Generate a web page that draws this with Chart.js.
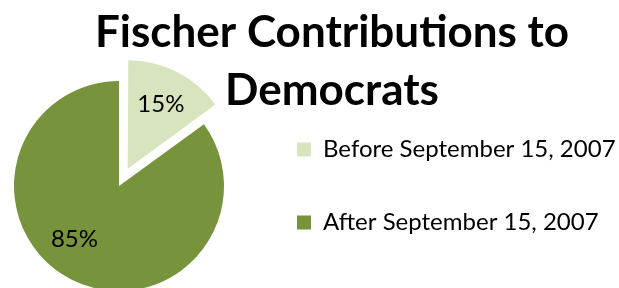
<!DOCTYPE html>
<html><head><meta charset="utf-8">
<script src="https://cdn.jsdelivr.net/npm/chart.js@4/dist/chart.umd.min.js"></script>
<style>
html,body{margin:0;padding:0;background:#fff;overflow:hidden;}
#wrap{width:619px;height:288px;position:relative;overflow:hidden;}
#c{position:absolute;left:-10px;top:0;}
</style>
</head><body><div id="wrap"><canvas id="c" width="629" height="288"></canvas></div>
<script>
const categories = ['Before September 15, 2007', 'After September 15, 2007'];
const shares = [15, 85];
const titleLines = ['Fischer Contributions to', 'Democrats'];
const sliceColors = ['#D7E4BD', '#77933C'];

const FONT = 'Lato, "Open Sans", sans-serif';
const deg = Math.PI / 180;
const labelPlacement = [{frac: 0.66, shift: 0}, {frac: 0.66, shift: 13}];

const overlay = {
  id: 'overlay',
  afterDatasetsDraw(chart) {
    const ctx = chart.ctx;
    const meta = chart.getDatasetMeta(0);
    const total = shares.reduce((a, b) => a + b, 0);
    ctx.save();
    ctx.font = '24px ' + FONT;
    ctx.fillStyle = '#000';
    ctx.textAlign = 'center';
    ctx.textBaseline = 'middle';
    meta.data.forEach((arc, i) => {
      const p = arc.getProps(['x', 'y', 'startAngle', 'endAngle', 'outerRadius', 'circumference'], true);
      const mid = (p.startAngle + p.endAngle) / 2;
      const off = (arc.options.offset || 0) / 4;
      const fix = 1 - Math.sin(Math.min(Math.PI, p.circumference || 0));
      const t = off * (1 + fix);
      const cx = p.x + Math.cos(mid) * t, cy = p.y + Math.sin(mid) * t;
      const a = mid + labelPlacement[i].shift * deg;
      const r = p.outerRadius * labelPlacement[i].frac;
      ctx.fillText(Math.round(shares[i] / total * 100) + '%', cx + Math.cos(a) * r, cy + Math.sin(a) * r);
    });
    ctx.restore();
  },
  afterDraw(chart) {
    const ctx = chart.ctx;
    ctx.save();
    ctx.font = 'bold 44px ' + FONT;
    ctx.fillStyle = '#000';
    ctx.textAlign = 'center';
    ctx.textBaseline = 'alphabetic';
    const baselines = [47, 105];
    titleLines.forEach((line, i) => ctx.fillText(line, 342, baselines[i]));
    ctx.restore();
  }
};

new Chart(document.getElementById('c'), {
  type: 'pie',
  data: {
    labels: categories,
    datasets: [{
      data: shares,
      backgroundColor: sliceColors,
      borderWidth: 0,
      offset: [77, 0],
      radius: 105,
      clip: false
    }]
  },
  options: {
    responsive: false,
    animation: false,
    events: [],
    layout: {padding: {left: 0, right: 0, top: 84, bottom: 0}},
    plugins: {
      legend: {
        position: 'right',
        align: 'center',
        maxWidth: 371,
        labels: {
          font: {family: FONT, size: 24},
          color: '#000',
          boxWidth: 14,
          boxHeight: 14,
          padding: 49
        }
      },
      tooltip: {enabled: false},
      title: {display: false}
    }
  },
  plugins: [overlay]
});
</script>
</body></html>
